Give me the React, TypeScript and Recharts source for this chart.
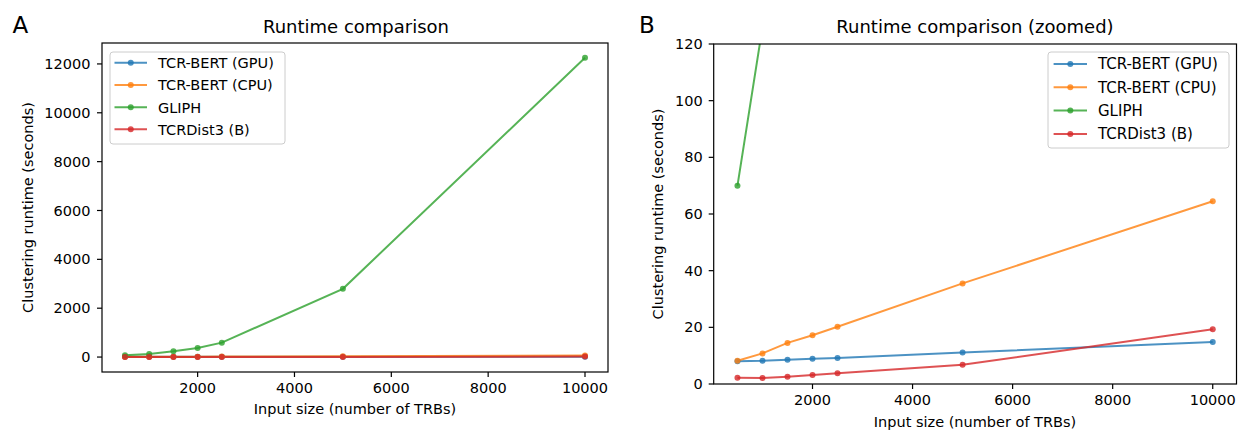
import React from 'react';
import { LineChart, Line, XAxis, YAxis } from 'recharts';

// Input sizes (number of TRBs) and clustering runtimes in seconds
const inputSizes = [500, 1000, 1500, 2000, 2500, 5000, 10000];
const tcrBertGpu = [8.0, 8.2, 8.6, 8.9, 9.2, 11.1, 14.8];
const tcrBertCpu = [8.2, 10.8, 14.5, 17.2, 20.2, 35.5, 64.5];
const gliph = [70, 126, 235, 375, 590, 2793, 12250];
const tcrDist3 = [2.2, 2.1, 2.6, 3.2, 3.8, 6.8, 19.3];

const xTicks = [2000, 4000, 6000, 8000, 10000];
const yTicksFull = [0, 2000, 4000, 6000, 8000, 10000, 12000];
const yTicksZoom = [0, 20, 40, 60, 80, 100, 120];

const SERIES = [
  { key: 'gpu', name: 'TCR-BERT (GPU)', color: '#1f77b4' },
  { key: 'cpu', name: 'TCR-BERT (CPU)', color: '#ff7f0e' },
  { key: 'gliph', name: 'GLIPH', color: '#2ca02c' },
  { key: 'tcrdist', name: 'TCRDist3 (B)', color: '#d62728' },
];

const rows = inputSizes.map((n, i) => ({
  n,
  gpu: tcrBertGpu[i],
  cpu: tcrBertCpu[i],
  gliph: gliph[i],
  tcrdist: tcrDist3[i],
}));

const FONT = 'DejaVu Sans';
const tickStyle = { fontSize: 14.5, fill: '#000', fontFamily: FONT };
const tickLine = { stroke: '#000', strokeWidth: 1.2 };

const renderLines = () =>
  SERIES.map(s => (
    <Line
      key={s.key}
      type="linear"
      dataKey={s.key}
      name={s.name}
      stroke={s.color}
      strokeWidth={2}
      strokeOpacity={0.8}
      dot={{ r: 3, fill: s.color, fillOpacity: 0.8, stroke: 'none' }}
      isAnimationActive={false}
    />
  ));

// matplotlib-style legend box
const LegendBox = ({ x, y, w, h, rows: rowY, handle, textX, fontSize }: any) => (
  <g>
    <rect x={x} y={y} width={w} height={h} rx={3} fill="#fff" fillOpacity={0.8} stroke="#cccccc" strokeWidth={1} />
    {SERIES.map((s, i) => (
      <g key={s.key}>
        <line x1={handle[0]} x2={handle[1]} y1={rowY[i]} y2={rowY[i]} stroke={s.color} strokeOpacity={0.8} strokeWidth={2} />
        <circle cx={(handle[0] + handle[1]) / 2} cy={rowY[i]} r={3} fill={s.color} fillOpacity={0.8} />
        <text x={textX} y={rowY[i] + fontSize * 0.36} fontSize={fontSize} fontFamily={FONT} fill="#000">{s.name}</text>
      </g>
    ))}
  </g>
);

const App: React.FC = () => {
  return (
    <div style={{ position: 'absolute', left: 0, top: 0, width: 1238, height: 430, background: '#fff', overflow: 'hidden' }}>
      {/* Panel A: full range */}
      <div style={{ position: 'absolute', left: 0, top: 0 }}>
        <LineChart width={620} height={430} data={rows} margin={{ top: 43, right: 12, bottom: 0, left: 0 }}>
          <XAxis
            dataKey="n"
            type="number"
            domain={[25, 10475]}
            ticks={xTicks}
            interval={0}
            allowDataOverflow
            height={58}
            axisLine={false}
            tickLine={tickLine}
            tickSize={5}
            tickMargin={6}
            tick={tickStyle}
          />
          <YAxis
            type="number"
            domain={[-612, 12857]}
            ticks={yTicksFull}
            interval={0}
            allowDataOverflow
            width={102}
            axisLine={false}
            tickLine={tickLine}
            tickSize={5}
            tickMargin={6.5}
            tick={tickStyle}
          />
          {renderLines()}
        </LineChart>
      </div>

      {/* Panel B: zoomed to 0-120 s */}
      <div style={{ position: 'absolute', left: 620, top: 0 }}>
        <LineChart width={618} height={430} data={rows} margin={{ top: 44, right: 1.5, bottom: 0, left: 0 }}>
          <XAxis
            dataKey="n"
            type="number"
            domain={[25, 10475]}
            ticks={xTicks}
            interval={0}
            allowDataOverflow
            height={46}
            axisLine={false}
            tickLine={tickLine}
            tickSize={5}
            tickMargin={6}
            tick={tickStyle}
          />
          <YAxis
            type="number"
            domain={[0, 120]}
            ticks={yTicksZoom}
            interval={0}
            allowDataOverflow
            width={93.7}
            axisLine={false}
            tickLine={tickLine}
            tickSize={5}
            tickMargin={6}
            tick={tickStyle}
          />
          {renderLines()}
        </LineChart>
      </div>

      {/* frames, titles, labels and legends */}
      <svg width={1238} height={430} style={{ position: 'absolute', left: 0, top: 0, pointerEvents: 'none' }}>
        <rect x={102} y={43} width={506} height={329} fill="none" stroke="#000" strokeWidth={1.2} />
        <rect x={713.7} y={44} width={522.8} height={340} fill="none" stroke="#000" strokeWidth={1.2} />

        <text x={12.5} y={33} fontSize={23} fontFamily={FONT} fill="#000">A</text>
        <text x={639} y={33} fontSize={23} fontFamily={FONT} fill="#000">B</text>

        <text x={356} y={33.3} fontSize={18} fontFamily={FONT} fill="#000" textAnchor="middle">Runtime comparison</text>
        <text x={975} y={33.3} fontSize={18} fontFamily={FONT} fill="#000" textAnchor="middle">Runtime comparison (zoomed)</text>

        <text x={355} y={413.6} fontSize={14.5} fontFamily={FONT} fill="#000" textAnchor="middle">Input size (number of TRBs)</text>
        <text x={975} y={427} fontSize={14.5} fontFamily={FONT} fill="#000" textAnchor="middle">Input size (number of TRBs)</text>

        <text transform="translate(33,207.5) rotate(-90)" fontSize={14.5} fontFamily={FONT} fill="#000" textAnchor="middle">Clustering runtime (seconds)</text>
        <text transform="translate(662.5,214) rotate(-90)" fontSize={14.5} fontFamily={FONT} fill="#000" textAnchor="middle">Clustering runtime (seconds)</text>

        <LegendBox x={110} y={52} w={175} h={92} rows={[62.7, 85, 107.3, 129.3]} handle={[114.5, 147]} textX={158} fontSize={14.5} />
        <LegendBox x={1048} y={52} w={181} h={96} rows={[64, 87.3, 110.6, 134]} handle={[1053.6, 1087]} textX={1098} fontSize={15} />
      </svg>
    </div>
  );
};

export default App;
